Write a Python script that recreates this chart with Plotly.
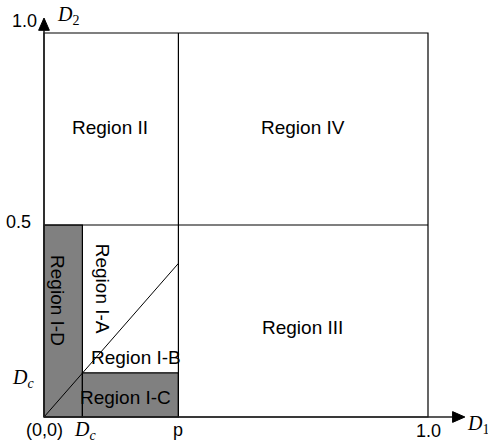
import plotly.graph_objects as go

# Threshold values on the D1 / D2 plane
p_value = 0.35          # D1 threshold p
dc_d1 = 0.10            # Dc on the D1 axis
dc_d2 = 0.115           # Dc on the D2 axis
half = 0.5              # D2 = 0.5 split
diag_top = 0.40         # D2 value where the diagonal meets D1 = p
axis_max = 1.0

region_names = ["Region II", "Region IV", "Region III",
                "Region I-A", "Region I-B", "Region I-C", "Region I-D"]

GRAY = "#808080"
LINE = "#000000"
FONT = "Liberation Sans, Arial, sans-serif"
SERIF = "Liberation Serif, Times New Roman, serif"

fig = go.Figure()

shapes = []
# shaded regions I-D and I-C
shapes.append(dict(type="rect", x0=0, x1=dc_d1, y0=0, y1=half,
                   fillcolor=GRAY, line=dict(color=LINE, width=1.2), layer="below"))
shapes.append(dict(type="rect", x0=dc_d1, x1=p_value, y0=0, y1=dc_d2,
                   fillcolor=GRAY, line=dict(color=LINE, width=1.2), layer="below"))
# outer frame
shapes.append(dict(type="rect", x0=0, x1=axis_max, y0=0, y1=axis_max,
                   line=dict(color=LINE, width=1.2)))
# D2 = 0.5 split and D1 = p split
shapes.append(dict(type="line", x0=0, x1=axis_max, y0=half, y1=half,
                   line=dict(color=LINE, width=1.2)))
shapes.append(dict(type="line", x0=p_value, x1=p_value, y0=0, y1=axis_max,
                   line=dict(color=LINE, width=1.2)))
# diagonal boundary between I-A and I-B
shapes.append(dict(type="line", x0=0, x1=p_value, y0=0, y1=diag_top,
                   line=dict(color=LINE, width=1)))

# axes with arrowheads
x_tip, y_tip = 1.096, 1.039
ah_len, ah_half = 0.032, 0.014
shapes.append(dict(type="line", x0=0, x1=x_tip - ah_len, y0=0, y1=0,
                   line=dict(color="#222222", width=1.6)))
shapes.append(dict(type="line", x0=0, x1=0, y0=0, y1=y_tip - ah_len,
                   line=dict(color="#222222", width=1.6)))
shapes.append(dict(type="path",
                   path=f"M {x_tip} 0 L {x_tip - ah_len} {ah_half} L {x_tip - ah_len} {-ah_half} Z",
                   fillcolor="#000000", line=dict(color="#000000", width=1)))
shapes.append(dict(type="path",
                   path=f"M 0 {y_tip} L {ah_half} {y_tip - ah_len} L {-ah_half} {y_tip - ah_len} Z",
                   fillcolor="#000000", line=dict(color="#000000", width=1)))

ann = []


def label(text, x, y, size=19, family=FONT, angle=0, xanchor="center", yanchor="middle"):
    ann.append(dict(text=text, x=x, y=y, xref="x", yref="y", showarrow=False,
                    textangle=angle, xanchor=xanchor, yanchor=yanchor,
                    font=dict(family=family, size=size, color="#000000")))


# region labels
label(region_names[0], 0.172, 0.753)
label(region_names[1], 0.674, 0.753)
label(region_names[2], 0.674, 0.234)
label(region_names[3], 0.151, 0.334, angle=90)
label(region_names[4], 0.239, 0.155)
label(region_names[5], 0.211, 0.050)
label(region_names[6], 0.037, 0.304, angle=90)

# tick labels
label("1.0", -0.012, 1.030, size=18, xanchor="right")
label("0.5", -0.029, 0.507, size=18, xanchor="right")
label("<i>D</i><sub><i>c</i></sub>", -0.055, 0.100, size=20, family=SERIF)
label("(0,0)", 0.000, -0.034, size=18)
label("<i>D</i><sub><i>c</i></sub>", 0.107, -0.036, size=20, family=SERIF)
label("p", p_value, -0.034, size=18)
label("1.0", axis_max, -0.036, size=18)
label("<i>D</i><sub>1</sub>", 1.130, -0.020, size=20, family=SERIF)
label("<i>D</i><sub>2</sub>", 0.062, 1.046, size=20, family=SERIF)

fig.update_layout(
    width=488, height=442,
    margin=dict(l=0, r=0, t=0, b=0),
    paper_bgcolor="white", plot_bgcolor="white",
    showlegend=False,
    xaxis=dict(range=[-44 / 384, 444 / 384], visible=False, fixedrange=True),
    yaxis=dict(range=[-25 / 384, 417 / 384], visible=False, fixedrange=True),
    shapes=shapes, annotations=ann,
)

fig.write_html("out.html")
